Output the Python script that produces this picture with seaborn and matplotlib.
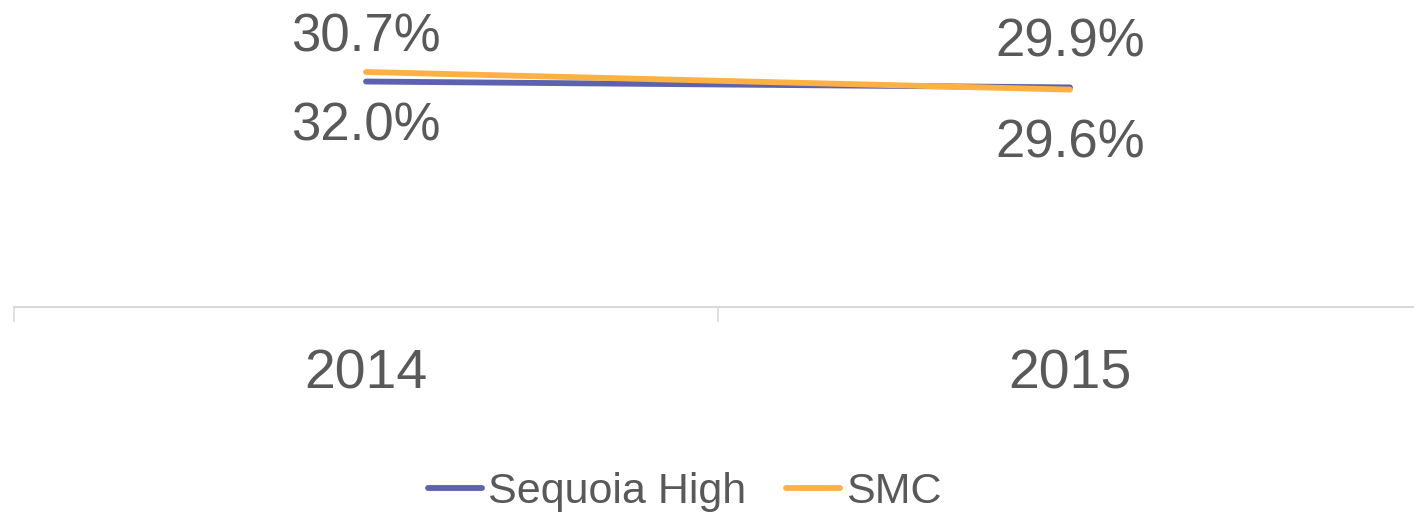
import seaborn as sns
import matplotlib.pyplot as plt
import pandas as pd

years = ['2014', '2015']
sequoia_high = [30.7, 29.9]
smc = [32.0, 29.6]
series_names = ['Sequoia High', 'SMC']

data = pd.DataFrame({
    'year': years * 2,
    'value': sequoia_high + smc,
    'school': [series_names[0]] * 2 + [series_names[1]] * 2,
})

sns.set_style('white')
plt.rcParams['font.family'] = ['Liberation Sans', 'DejaVu Sans']
text_color = '#595959'
colors = {'Sequoia High': '#5c62ad', 'SMC': '#fdb043'}

fig = plt.figure(figsize=(14.14, 5.14), dpi=100)
ax = fig.add_axes([14 / 1414, 207 / 514, 1408 / 1414, 307 / 514])

sns.lineplot(data=data, x='year', y='value', hue='school', palette=colors,
             linewidth=4.2, ax=ax, legend=True, solid_capstyle='round')

# data labels: Sequoia above, SMC below
for i, v in enumerate(sequoia_high):
    ax.annotate(f'{v:.1f}%', (i, v), xytext=(0, 14), textcoords='offset points',
                ha='center', va='bottom', fontsize=38, color=text_color)
for i, v in enumerate(smc):
    ax.annotate(f'{v:.1f}%', (i, v), xytext=(0, -21), textcoords='offset points',
                ha='center', va='top', fontsize=38, color=text_color)

ax.set_xlim(-0.5, 1.5)
ax.set_ylim(0, 41.8)
ax.set_xlabel('')
ax.set_ylabel('')
ax.set_yticks([])
ax.set_xticks([0, 1])
ax.set_xticklabels(years)
ax.set_xticks([-0.5, 0.5, 1.5], minor=True)
ax.tick_params(axis='x', which='major', bottom=True, length=0, pad=30,
               labelsize=40, labelcolor=text_color)
ax.tick_params(axis='x', which='minor', bottom=True, length=11, width=1.2,
               color='#d9d9d9', direction='out')
for side in ['top', 'right', 'left']:
    ax.spines[side].set_visible(False)
ax.spines['bottom'].set_color('#d9d9d9')
ax.spines['bottom'].set_linewidth(1.5)

handles, labels = ax.get_legend_handles_labels()
ax.get_legend().remove()
fig.legend(handles, labels, loc='center', bbox_to_anchor=(685 / 1414, 22 / 514),
           ncol=2, frameon=False, fontsize=31, labelcolor=text_color,
           handlelength=1.25, handletextpad=0.14, columnspacing=0.93)

fig.savefig('out.png', dpi=100)
